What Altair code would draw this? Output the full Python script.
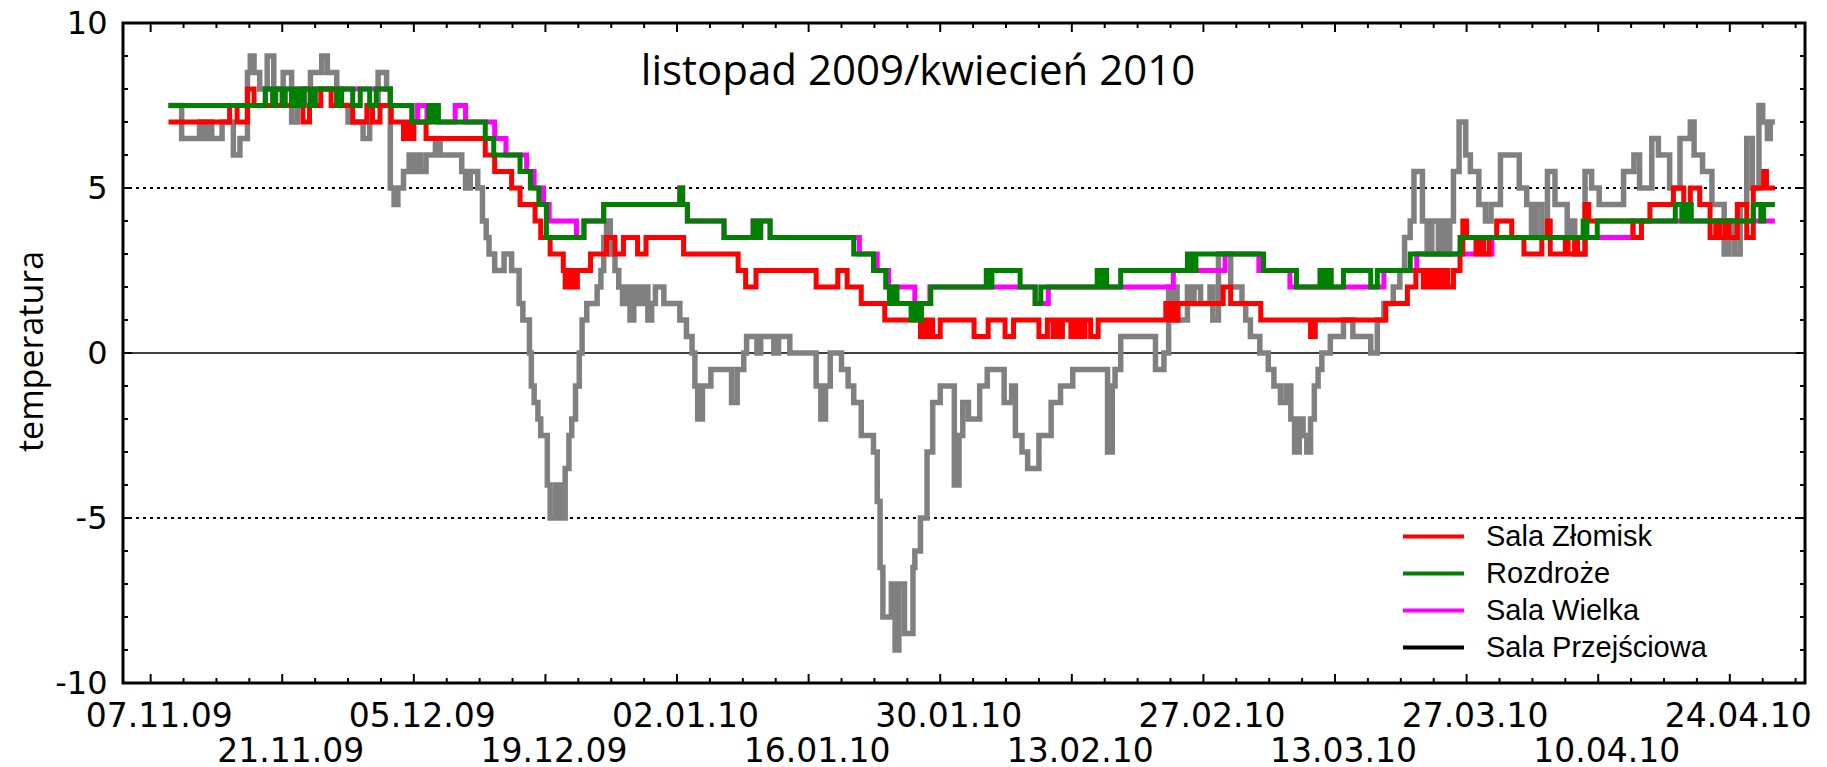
import altair as alt
import pandas as pd

# ---------------- data (day offsets from 07.11.2009, temperature in °C) ----------------
START = pd.Timestamp("2009-11-07")

series_names = ["Sala Złomisk", "Rozdroże", "Sala Wielka", "Sala Przejściowa"]
legend_colors = ["#ff0000", "#008000", "#ff00ff", "#000000"]
przejsciowa_line_color = "#808080"
title_text = "listopad 2009/kwiecień 2010"

zlomisk_days = [1.9, 8.4, 9.2, 10.3, 11.0, 16.2, 16.9, 18.1, 19.2, 21.5,
                23.0, 23.6, 24.4, 25.6, 26.9, 27.3, 27.6, 28.0, 29.3, 35.6,
                36.6, 38.4, 39.3, 40.9, 41.5, 42.5, 43.9, 44.1, 44.6, 44.9,
                45.4, 46.8, 48.5, 49.4, 50.3, 51.8, 52.7, 56.7, 62.5, 63.3,
                64.4, 70.8, 73.1, 74.1, 75.6, 78.1, 81.9, 82.3, 82.5, 82.7,
                83.2, 84.0, 87.6, 89.1, 90.9, 91.8, 94.5, 95.4, 96.0, 96.4,
                96.7, 97.0, 97.9, 98.3, 98.6, 99.0, 99.2, 99.4, 100.0, 100.8,
                108.0, 108.4, 108.8, 109.0, 109.3, 114.1, 114.9, 118.1, 123.4, 123.9,
                131.4, 133.7, 134.6, 135.4, 135.8, 136.2, 136.7, 137.1, 137.6, 138.0,
                138.6, 139.3, 139.6, 140.0, 141.0, 141.4, 141.8, 142.4, 143.2, 144.8,
                146.1, 148.0, 148.6, 148.9, 150.5, 150.8, 151.5, 151.8, 152.6, 153.0,
                157.7, 158.6, 159.5, 162.0, 163.1, 163.8, 164.8, 165.9, 166.5, 166.9,
                167.5, 167.9, 168.8, 169.8, 170.5, 171.6, 171.9, 172.8]
zlomisk_temp = [7.0, 7.5, 7.0, 8.0, 7.5, 7.0, 7.5, 8.0, 7.5, 7.0,
                7.5, 7.0, 7.5, 7.0, 6.5, 7.0, 6.5, 7.0, 6.5, 6.0,
                5.5, 5.0, 4.5, 4.0, 3.5, 3.0, 2.5, 2.0, 2.5, 2.0,
                2.5, 3.0, 3.5, 3.0, 3.5, 3.0, 3.5, 3.0, 2.5, 2.0,
                2.5, 2.0, 2.5, 2.0, 1.5, 1.0, 0.5, 1.0, 0.5, 1.0,
                0.5, 1.0, 0.5, 1.0, 0.5, 1.0, 0.5, 1.0, 0.5, 1.0,
                0.5, 1.0, 0.5, 1.0, 0.5, 1.0, 0.5, 1.0, 0.5, 1.0,
                1.5, 1.0, 1.5, 1.0, 1.5, 2.0, 1.5, 1.0, 0.5, 1.0,
                1.5, 2.0, 2.5, 2.0, 2.5, 2.0, 2.5, 2.0, 2.5, 2.0,
                2.5, 3.0, 4.0, 3.5, 3.0, 3.5, 3.0, 3.5, 4.0, 3.5,
                3.0, 3.5, 4.0, 3.0, 3.5, 3.0, 3.5, 3.0, 4.5, 4.0,
                3.5, 4.0, 4.5, 5.0, 4.5, 5.0, 4.5, 3.5, 4.0, 3.5,
                4.0, 3.5, 4.5, 3.5, 5.0, 5.5, 5.0, 5.0]

rozdroze_days = [1.9, 12.2, 13.0, 13.3, 14.0, 14.3, 15.0, 15.5, 16.0, 16.3,
                 17.0, 17.5, 19.8, 20.3, 21.5, 22.3, 23.3, 24.0, 25.5, 27.8,
                 29.6, 30.0, 30.2, 30.6, 35.6, 36.5, 39.3, 40.4, 41.3, 42.1,
                 46.1, 48.2, 56.3, 56.6, 57.1, 61.0, 64.1, 64.6, 64.9, 65.9,
                 74.8, 76.9, 78.2, 78.6, 79.0, 79.4, 80.9, 81.3, 81.6, 82.0,
                 83.0, 88.9, 89.2, 89.5, 92.5, 94.1, 94.7, 100.7, 101.0, 101.3,
                 101.7, 103.2, 110.3, 110.8, 111.2, 118.4, 121.9, 124.4, 124.8, 125.2,
                 125.6, 126.9, 129.8, 130.5, 134.0, 139.3, 152.4, 152.8, 153.9, 162.2,
                 162.9, 163.4, 163.9, 170.5, 171.3, 171.6, 172.8]
rozdroze_temp = [7.5, 8.0, 7.5, 8.0, 7.5, 8.0, 7.5, 8.0, 7.5, 8.0,
                 7.5, 8.0, 7.5, 8.0, 7.5, 8.0, 7.5, 8.0, 7.5, 7.0,
                 7.5, 7.0, 7.5, 7.0, 6.5, 6.0, 5.5, 5.0, 4.5, 3.5,
                 4.0, 4.5, 5.0, 4.5, 4.0, 3.5, 4.0, 3.5, 4.0, 3.5,
                 3.0, 2.5, 2.0, 1.5, 2.0, 1.5, 1.0, 1.5, 1.0, 1.5,
                 2.0, 2.5, 2.0, 2.5, 2.0, 1.5, 2.0, 2.5, 2.0, 2.5,
                 2.0, 2.5, 3.0, 2.5, 3.0, 2.5, 2.0, 2.5, 2.0, 2.5,
                 2.0, 2.5, 2.0, 2.5, 3.0, 3.5, 4.0, 3.5, 4.0, 4.5,
                 4.0, 4.5, 4.0, 4.5, 4.0, 4.5, 4.5]

wielka_days = [1.9, 12.2, 13.0, 13.3, 14.0, 14.3, 15.0, 15.5, 16.0, 16.3,
               17.0, 17.5, 19.8, 20.3, 25.5, 27.8, 28.4, 29.4, 29.6, 30.6,
               32.4, 33.5, 36.6, 37.8, 40.0, 40.8, 41.8, 42.4, 45.3, 46.1,
               48.2, 56.3, 56.6, 57.1, 61.0, 64.1, 64.6, 64.9, 65.9, 75.4,
               77.3, 78.5, 81.3, 82.9, 94.1, 95.5, 108.8, 114.3, 117.9, 121.2,
               131.2, 134.7, 142.7, 157.7, 172.8]
wielka_temp = [7.5, 8.0, 7.5, 8.0, 7.5, 8.0, 7.5, 8.0, 7.5, 8.0,
               7.5, 8.0, 7.5, 8.0, 7.5, 7.0, 7.5, 7.0, 7.5, 7.0,
               7.5, 7.0, 6.5, 6.0, 5.5, 5.0, 4.5, 4.0, 3.5, 4.0,
               4.5, 5.0, 4.5, 4.0, 3.5, 4.0, 3.5, 4.0, 3.5, 3.0,
               2.5, 2.0, 1.5, 2.0, 1.5, 2.0, 2.5, 3.0, 2.5, 2.0,
               2.5, 3.0, 3.5, 4.0, 4.0]

przejsciowa_days = [1.9, 3.3, 5.2, 5.7, 6.1, 6.5, 7.6, 8.8, 9.5, 10.3,
                    10.6, 11.0, 11.6, 12.4, 13.1, 14.1, 15.0, 15.6, 16.4, 17.0,
                    18.2, 18.8, 19.8, 20.3, 21.0, 22.6, 23.3, 24.2, 25.1, 25.5,
                    25.9, 26.3, 26.9, 27.5, 27.8, 28.3, 28.7, 29.3, 30.3, 30.8,
                    33.1, 33.5, 34.0, 34.8, 35.3, 35.7, 36.0, 36.6, 37.6, 38.4,
                    39.2, 39.6, 40.3, 40.5, 40.8, 41.2, 41.5, 42.2, 42.5, 43.1,
                    43.6, 44.1, 44.5, 44.8, 45.2, 45.6, 45.9, 46.4, 47.5, 47.9,
                    48.2, 48.5, 48.9, 49.4, 49.8, 50.2, 50.6, 51.0, 51.4, 51.9,
                    52.4, 52.9, 53.3, 53.7, 54.6, 56.3, 57.0, 57.6, 57.9, 58.2,
                    58.7, 59.6, 61.8, 62.4, 63.1, 63.4, 64.5, 64.9, 66.3, 66.8,
                    68.0, 70.8, 71.3, 71.8, 72.3, 73.5, 74.2, 74.8, 75.6, 76.9,
                    77.3, 77.6, 77.9, 78.8, 79.2, 79.6, 80.2, 81.1, 81.3, 81.9,
                    82.6, 83.2, 84.0, 85.5, 86.0, 86.4, 87.0, 88.2, 89.0, 90.8,
                    91.6, 92.0, 92.7, 93.3, 94.5, 95.8, 96.8, 98.1, 101.8, 102.3,
                    102.6, 103.2, 106.9, 107.8, 108.3, 108.6, 108.9, 109.2, 110.3, 110.7,
                    111.0, 111.7, 112.7, 113.0, 113.6, 114.9, 116.1, 116.5, 117.0, 118.0,
                    118.9, 119.5, 120.2, 120.8, 121.3, 121.7, 122.2, 122.6, 123.0, 123.4,
                    123.8, 124.2, 124.6, 125.5, 126.9, 127.9, 129.8, 130.5, 131.2, 132.2,
                    132.9, 133.4, 134.0, 134.4, 135.3, 135.8, 136.3, 137.0, 137.4, 137.8,
                    138.2, 138.6, 139.2, 139.9, 140.4, 141.3, 142.0, 142.6, 143.6, 145.6,
                    146.4, 146.9, 147.4, 148.0, 148.6, 149.4, 150.7, 151.2, 151.5, 152.6,
                    153.3, 154.1, 156.7, 157.8, 158.4, 159.7, 160.4, 161.6, 162.7, 163.8,
                    164.2, 165.1, 166.1, 167.4, 167.9, 168.5, 169.1, 169.8, 170.4, 171.1,
                    171.5, 172.0, 172.3, 172.8]
przejsciowa_temp = [7.5, 6.5, 7.0, 6.5, 7.0, 6.5, 7.0, 6.0, 6.5, 8.5,
                    9.0, 8.5, 8.0, 9.0, 8.0, 8.5, 7.0, 7.5, 8.0, 8.5,
                    9.0, 8.5, 8.0, 7.5, 7.0, 6.5, 7.5, 8.5, 8.0, 5.0,
                    4.5, 5.0, 5.5, 6.0, 5.5, 6.0, 5.5, 6.0, 6.5, 6.0,
                    5.5, 5.0, 5.5, 5.0, 4.0, 3.5, 3.0, 2.5, 3.0, 2.5,
                    1.5, 1.0, 0.0, -1.0, -1.5, -2.0, -2.5, -4.0, -5.0, -4.0,
                    -5.0, -3.5, -2.5, -2.0, -1.0, 0.0, 1.0, 1.5, 2.0, 2.5,
                    3.5, 4.0, 3.0, 2.5, 2.0, 1.5, 2.0, 1.0, 2.0, 1.5,
                    2.0, 1.0, 1.5, 2.0, 1.5, 1.0, 0.5, 0.0, -1.0, -2.0,
                    -1.0, -0.5, -1.5, -0.5, 0.0, 0.5, 0.0, 0.5, 0.0, 0.5,
                    0.0, -1.0, -2.0, -1.0, 0.0, -0.5, -1.0, -1.5, -2.5, -3.0,
                    -4.5, -6.5, -8.0, -7.0, -9.0, -7.0, -8.5, -6.5, -6.0, -5.0,
                    -3.0, -1.5, -1.0, -4.0, -2.5, -1.5, -2.0, -1.0, -0.5, -1.5,
                    -1.0, -2.5, -3.0, -3.5, -2.5, -1.5, -1.0, -0.5, -3.0, -1.0,
                    -0.5, 0.5, -0.5, 0.0, 2.0, 1.0, 2.0, 1.0, 2.0, 1.5,
                    2.0, 1.5, 2.0, 1.0, 3.0, 2.0, 1.5, 1.0, 0.5, 0.0,
                    -0.5, -1.0, -1.5, -1.0, -2.0, -3.0, -2.0, -2.5, -3.0, -2.0,
                    -1.0, -0.5, 0.0, 0.5, 1.0, 0.5, 0.0, 1.0, 1.5, 2.0,
                    2.5, 3.5, 4.0, 5.5, 4.0, 3.0, 4.0, 3.0, 4.0, 3.0,
                    4.0, 5.5, 7.0, 6.0, 5.5, 4.5, 4.0, 4.5, 6.0, 5.0,
                    4.5, 3.5, 4.5, 3.5, 5.5, 4.5, 3.5, 4.0, 3.0, 5.5,
                    5.0, 4.5, 5.5, 6.0, 5.0, 6.5, 6.0, 5.0, 6.5, 7.0,
                    6.0, 5.5, 4.5, 3.0, 4.0, 3.0, 4.5, 6.5, 5.0, 7.5,
                    7.0, 6.5, 7.0, 7.0]

# axis tick positions (days from 07.11.2009 / degrees)
major_tick_days = [14 * k for k in range(13)]
minor_tick_days = [3.5 * k for k in range(51) if k % 4 != 0]
y_minor_ticks = [v for v in range(-10, 11) if v % 5 != 0]
y_major_ticks = [-10, -5, 0, 5, 10]


def make_frame(name, days, temps):
    assert len(days) == len(temps), name
    return pd.DataFrame({
        "date": [START + pd.Timedelta(days=d) for d in days],
        "temp": temps,
        "series": name,
    })


df_zlomisk = make_frame(series_names[0], zlomisk_days, zlomisk_temp)
df_rozdroze = make_frame(series_names[1], rozdroze_days, rozdroze_temp)
df_wielka = make_frame(series_names[2], wielka_days, wielka_temp)
df_przej = make_frame(series_names[3], przejsciowa_days, przejsciowa_temp)

W, H = 1682, 660

xscale = alt.Scale(domain=[alt.DateTime(year=2009, month=11, date=4, hours=1, minutes=26),
                           alt.DateTime(year=2010, month=5, date=2)])
yscale = alt.Scale(domain=[-10, 10], nice=False, zero=False)

label_dates = [START + pd.Timedelta(days=d) for d in major_tick_days]
x_axis = alt.Axis(
    values=[alt.DateTime(year=t.year, month=t.month, date=t.day) for t in label_dates],
    format="%d.%m.%y",
    labelExpr="(round((datum.value - time(datetime(2009, 10, 7))) / 1209600000) % 2 == 1) ? ['', datum.label] : datum.label",
    labelFont="DejaVu Sans", labelFontSize=33, labelColor="black",
    labelPadding=17, labelLineHeight=35, labelOffset=8,
    labelOverlap=False, labelFlush=False,
    ticks=False, tickSize=0, domain=False, grid=False, title=None,
)
y_axis = alt.Axis(
    values=y_major_ticks,
    labelExpr="datum.value + ''",
    labelFont="DejaVu Sans", labelFontSize=32, labelColor="black",
    labelPadding=16, ticks=False, tickSize=0, domain=False, grid=False,
    title="temperatura", titleFont="Open Sans", titleFontSize=34, titleFontWeight="normal",
    titleColor="black", titleAngle=270, titleX=-91, titleY=328,
    titleAlign="center", titleBaseline="middle",
)

X = alt.X("date:T", scale=xscale, axis=x_axis)
cscale = alt.Scale(domain=series_names, range=legend_colors)
legend = alt.Legend(
    orient="none", legendX=1290, legendY=493, title=None,
    symbolType="M-1.65,0L1.65,0", symbolSize=1369, symbolStrokeWidth=4,
    labelFont="Liberation Sans", labelFontSize=29, labelColor="black",
    labelOffset=32, rowPadding=1, padding=0, labelLimit=0,
)


def Y(field):
    return alt.Y(field, scale=yscale, axis=y_axis)


# reference lines
dotted = alt.Chart(pd.DataFrame({"v": [5, -5]})).mark_rule(
    color="black", strokeWidth=2, strokeDash=[3, 4]
).encode(y=Y("v:Q"))
zero = alt.Chart(pd.DataFrame({"v": [0]})).mark_rule(
    color="black", strokeWidth=1.6
).encode(y=Y("v:Q"))

gray_line = alt.Chart(df_przej).mark_line(
    interpolate="step-after", color=przejsciowa_line_color, strokeWidth=5.5
).encode(x=X, y=Y("temp:Q"))


def colored_line(df):
    return alt.Chart(df).mark_line(interpolate="step-after", strokeWidth=5).encode(
        x=X, y=Y("temp:Q"),
        color=alt.Color("series:N", scale=cscale, legend=legend),
    )


# inward tick marks on all four sides
def x_ticks(days, length):
    d = pd.DataFrame({"date": [START + pd.Timedelta(days=v) for v in days]})
    bottom = alt.Chart(d).mark_rule(color="black", strokeWidth=2).encode(
        x=X, y=alt.value(H), y2=alt.value(H - length))
    top = alt.Chart(d).mark_rule(color="black", strokeWidth=2).encode(
        x=X, y=alt.value(0), y2=alt.value(length))
    return [bottom, top]


def y_ticks(vals, length):
    d = pd.DataFrame({"v": vals})
    left = alt.Chart(d).mark_rule(color="black", strokeWidth=2).encode(
        y=Y("v:Q"), x=alt.value(0), x2=alt.value(length))
    right = alt.Chart(d).mark_rule(color="black", strokeWidth=2).encode(
        y=Y("v:Q"), x=alt.value(W), x2=alt.value(W - length))
    return [left, right]


title_layer = alt.Chart(pd.DataFrame({"t": [title_text]})).mark_text(
    font="Open Sans", fontSize=42, align="center", baseline="alphabetic", color="black"
).encode(text="t:N", x=alt.value(795), y=alt.value(62))

layers = [dotted, zero, gray_line,
          colored_line(df_wielka), colored_line(df_zlomisk), colored_line(df_rozdroze)]
layers += x_ticks(major_tick_days, 9) + x_ticks(minor_tick_days, 5)
layers += y_ticks(y_major_ticks, 9) + y_ticks(y_minor_ticks, 5)
layers.append(title_layer)

chart = alt.layer(*layers).properties(
    width=W, height=H,
    padding={"left": 115, "top": 15, "right": 14, "bottom": 89},
    autosize=alt.AutoSizeParams(type="none"),
    background="white",
).configure_view(stroke="black", strokeWidth=3)

chart.save("out.html", embed_options={"renderer": "svg", "actions": False})
